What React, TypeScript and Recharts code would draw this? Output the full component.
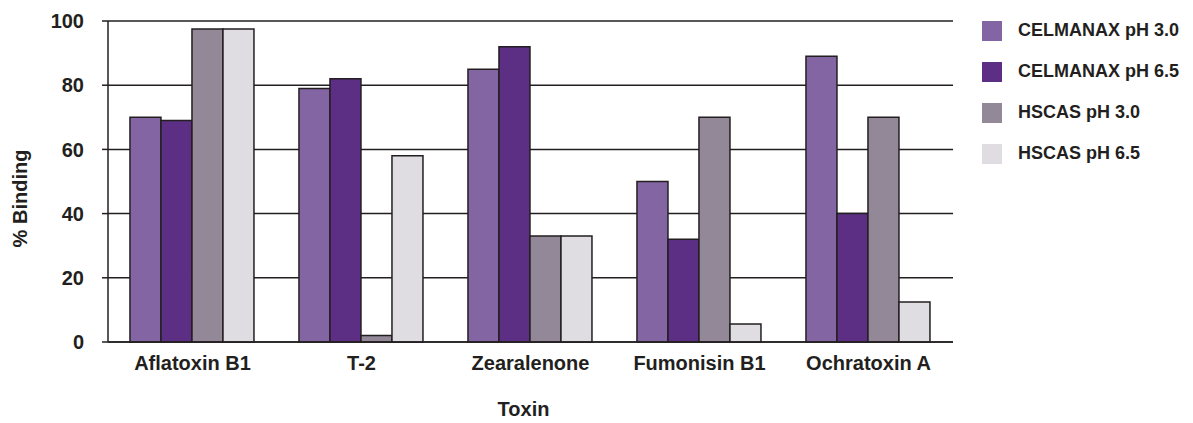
// % Binding of mycotoxins by CELMANAX vs HSCAS, grouped bar chart
import { BarChart, Bar, XAxis, YAxis, CartesianGrid, Legend } from 'recharts';

const toxins = ['Aflatoxin B1', 'T-2', 'Zearalenone', 'Fumonisin B1', 'Ochratoxin A'];
const celmanax30 = [70, 79, 85, 50, 89];
const celmanax65 = [69, 82, 92, 32, 40];
const hscas30 = [97.5, 2, 33, 70, 70];
const hscas65 = [97.5, 58, 33, 5.6, 12.5];
const yTicks = [0, 20, 40, 60, 80, 100];

const seriesNames = ['CELMANAX pH 3.0', 'CELMANAX pH 6.5', 'HSCAS pH 3.0', 'HSCAS pH 6.5'];
const seriesColors = ['#8465a3', '#5c2f84', '#928898', '#dfdde2'];

const data = toxins.map((name, i) => ({
  name,
  s0: celmanax30[i],
  s1: celmanax65[i],
  s2: hscas30[i],
  s3: hscas65[i],
}));

const FONT = '"Liberation Sans", Arial, sans-serif';
const INK = '#231f20';

function LegendBox() {
  return (
    <div style={{ fontFamily: FONT, fontWeight: 'bold', fontSize: 18, color: INK }}>
      {seriesNames.map((n, i) => (
        <div key={n} style={{ display: 'flex', alignItems: 'center', height: 41 }}>
          <div style={{ width: 20, height: 20, background: seriesColors[i], marginRight: 16 }} />
          <span>{n}</span>
        </div>
      ))}
    </div>
  );
}

// rotated y-axis title, nudged a bit below the plot's middle like the original
function YTitle({ viewBox }: any) {
  const cx = viewBox.x + 20;
  const cy = viewBox.y + viewBox.height / 2 + 17;
  return (
    <text
      transform={`translate(${cx},${cy}) rotate(-90)`}
      textAnchor="middle"
      dominantBaseline="central"
      fill={INK}
      fontFamily={FONT}
      fontWeight="bold"
      fontSize={20}
    >
      % Binding
    </text>
  );
}

export default function App() {
  return (
    <div style={{ position: 'absolute', left: 0, top: 0, width: 1193, height: 423, background: '#fff' }}>
      <BarChart
        width={1193}
        height={423}
        data={data}
        margin={{ top: 21, right: 240, left: 0, bottom: 0 }}
        barCategoryGap="13%"
        barGap={0}
      >
        <CartesianGrid xAxisId="cat" yAxisId="left" vertical={false} stroke={INK} strokeWidth={1.5} />
        <XAxis
          xAxisId="bounds"
          type="number"
          domain={[0, 5]}
          ticks={[0, 1, 2, 3, 4, 5]}
          tickFormatter={() => ''}
          axisLine={false}
          tickLine={{ stroke: INK, strokeWidth: 1.5 }}
          tickSize={7}
          height={0}
        />
        <XAxis
          xAxisId="cat"
          dataKey="name"
          height={81}
          tickLine={false}
          axisLine={{ stroke: INK, strokeWidth: 1.5 }}
          tickMargin={8}
          tick={{ fill: INK, fontFamily: FONT, fontWeight: 'bold', fontSize: 20 }}
          label={{
            value: 'Toxin',
            position: 'insideBottom',
            offset: 7,
            dx: -7,
            fill: INK,
            fontFamily: FONT,
            fontWeight: 'bold',
            fontSize: 20,
          }}
        />
        <YAxis
          yAxisId="left"
          width={108}
          domain={[0, 100]}
          ticks={yTicks}
          tickSize={6}
          tickMargin={18}
          axisLine={{ stroke: INK, strokeWidth: 1.5 }}
          tickLine={{ stroke: INK, strokeWidth: 1.5 }}
          tick={{ fill: INK, fontFamily: FONT, fontWeight: 'bold', fontSize: 20 }}
          label={<YTitle />}
        />
        <YAxis
          yAxisId="right"
          orientation="right"
          width={0}
          domain={[0, 100]}
          tick={false}
          tickLine={false}
          axisLine={{ stroke: INK, strokeWidth: 1.5 }}
        />
        <Legend
          layout="vertical"
          align="center"
          verticalAlign="middle"
          content={() => <LegendBox />}
          wrapperStyle={{ position: 'absolute', left: 982, top: 10, width: 211 }}
        />
        {['s0', 's1', 's2', 's3'].map((k, i) => (
          <Bar
            key={k}
            xAxisId="cat"
            yAxisId="left"
            dataKey={k}
            name={seriesNames[i]}
            fill={seriesColors[i]}
            stroke={INK}
            strokeWidth={1.5}
            isAnimationActive={false}
          />
        ))}
      </BarChart>
    </div>
  );
}
